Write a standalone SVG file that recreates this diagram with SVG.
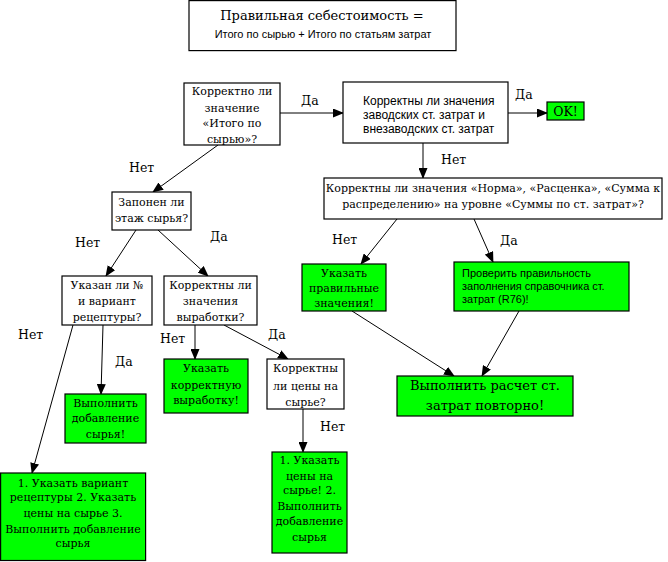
<svg xmlns="http://www.w3.org/2000/svg" width="668" height="562" viewBox="0 0 668 562">
<style>
.b{fill:#fff;stroke:#000;stroke-width:1.2}
.g{fill:#00ff00;stroke:#000;stroke-width:1.2}
.s{font-family:"DejaVu Serif","Liberation Serif",serif;font-size:11px;fill:#000}
.a{font-family:"Liberation Sans",Arial,sans-serif;font-size:12px;fill:#000}
.c{text-anchor:middle}
.t{font-size:12.5px}
.h{font-size:13px}
.l{stroke:#000;stroke-width:1;fill:none;marker-end:url(#ar)}
</style>
<defs>
<marker id="ar" markerWidth="11" markerHeight="9" refX="10" refY="4.5" orient="auto" markerUnits="userSpaceOnUse">
<path d="M0,0 L11,4.5 L0,9 Z" fill="#000"/>
</marker>
</defs>
<rect width="668" height="562" fill="#fff"/>
<g id="title">
<rect class="b" x="189" y="0.6" width="267" height="50"/>
<text class="s c h" x="322" y="20">Правильная себестоимость =</text>
<text class="a c" x="323" y="38" style="font-size:11px">Итого по сырью + Итого по статьям затрат</text>
</g>
<g id="connectors">
<line class="l" x1="280" y1="113" x2="343" y2="113"/>
<line class="l" x1="508" y1="113" x2="547" y2="113"/>
<line class="l" x1="423" y1="143" x2="423" y2="178"/>
<line class="l" x1="397" y1="219" x2="361" y2="264"/>
<line class="l" x1="474" y1="219" x2="493" y2="262"/>
<line class="l" x1="352" y1="311" x2="454" y2="376"/>
<line class="l" x1="519" y1="311" x2="482" y2="376"/>
<line class="l" x1="218" y1="145" x2="153" y2="192"/>
<line class="l" x1="136" y1="230" x2="106" y2="276"/>
<line class="l" x1="158" y1="230" x2="208" y2="276"/>
<line class="l" x1="73" y1="325" x2="32" y2="473"/>
<line class="l" x1="103" y1="325" x2="101" y2="394"/>
<line class="l" x1="195" y1="325" x2="195" y2="359"/>
<line class="l" x1="224" y1="325" x2="288" y2="359"/>
<line class="l" x1="303" y1="409" x2="303" y2="452"/>
<text class="s t" x="301" y="105">Да</text>
<text class="s t" x="515" y="99">Да</text>
<text class="s t" x="441" y="164">Нет</text>
<text class="s t" x="332" y="244">Нет</text>
<text class="s t" x="500" y="245">Да</text>
<text class="s t" x="129" y="172">Нет</text>
<text class="s t" x="75" y="247">Нет</text>
<text class="s t" x="210" y="241">Да</text>
<text class="s t" x="18" y="339">Нет</text>
<text class="s t" x="115" y="366">Да</text>
<text class="s t" x="160" y="343">Нет</text>
<text class="s t" x="268" y="339">Да</text>
<text class="s t" x="320" y="431">Нет</text>
</g>
<g id="n1">
<rect class="b" x="184" y="83" width="96" height="62"/>
<text class="s c" x="232" y="95">Корректно ли</text>
<text class="s c" x="232" y="112">значение</text>
<text class="s c" x="232" y="127">«Итого по</text>
<text class="s c" x="232" y="143">сырью»?</text>
</g>
<g id="n2">
<rect class="b" x="343" y="82" width="165" height="61"/>
<text class="a" x="363" y="105">Корректны ли значения</text>
<text class="a" x="363" y="119">заводских ст. затрат и</text>
<text class="a" x="363" y="133">внезаводских ст. затрат</text>
</g>
<g id="ok">
<rect class="g" x="547" y="102" width="37" height="18"/>
<text class="s c t" x="565.5" y="116">OK!</text>
</g>
<g id="n3">
<rect class="b" x="324" y="178" width="338" height="41"/>
<text class="s c" x="493" y="192">Корректны ли значения «Норма», «Расценка», «Сумма к</text>
<text class="s c" x="493" y="208">распределению» на уровне «Суммы по ст. затрат»?</text>
</g>
<g id="n4">
<rect class="g" x="302" y="264" width="84" height="47"/>
<text class="s c" x="344" y="277">Указать</text>
<text class="s c" x="344" y="292">правильные</text>
<text class="s c" x="344" y="307">значения!</text>
</g>
<g id="n5">
<rect class="g" x="454" y="262" width="175" height="49"/>
<text class="a" x="462" y="277" style="font-size:11px">Проверить правильность</text>
<text class="a" x="462" y="290" style="font-size:11px">заполнения справочника ст.</text>
<text class="a" x="462" y="303" style="font-size:11px">затрат (R76)!</text>
</g>
<g id="n6">
<rect class="g" x="397" y="376" width="176" height="40"/>
<text class="s c h" x="485" y="390">Выполнить расчет ст.</text>
<text class="s c h" x="485" y="410">затрат повторно!</text>
</g>
<g id="n7">
<rect class="b" x="112" y="192" width="79" height="38"/>
<text class="s c" x="151.5" y="206">Запонен ли</text>
<text class="s c" x="151.5" y="222">этаж сырья?</text>
</g>
<g id="n8">
<rect class="b" x="62" y="276" width="90" height="49"/>
<text class="s c" x="107" y="289">Указан ли №</text>
<text class="s c" x="107" y="305">и вариант</text>
<text class="s c" x="107" y="321">рецептуры?</text>
</g>
<g id="n9">
<rect class="b" x="164" y="276" width="93" height="49"/>
<text class="s c" x="210.5" y="289">Корректны ли</text>
<text class="s c" x="210.5" y="305">значения</text>
<text class="s c" x="210.5" y="321">выработки?</text>
</g>
<g id="n10">
<rect class="g" x="65" y="394" width="81" height="49"/>
<text class="s c" x="105.5" y="407">Выполнить</text>
<text class="s c" x="105.5" y="422">добавление</text>
<text class="s c" x="105.5" y="438">сырья!</text>
</g>
<g id="n11">
<rect class="g" x="0.6" y="473" width="145" height="87.5"/>
<text class="s c" x="73" y="487">1. Указать вариант</text>
<text class="s c" x="73" y="501">рецептуры  2.  Указать</text>
<text class="s c" x="73" y="517">цены на сырье 3.</text>
<text class="s c" x="73" y="533">Выполнить добавление</text>
<text class="s c" x="73" y="547">сырья</text>
</g>
<g id="n12">
<rect class="g" x="164" y="359" width="84" height="54"/>
<text class="s c" x="206" y="372">Указать</text>
<text class="s c" x="206" y="389">корректную</text>
<text class="s c" x="206" y="404">выработку!</text>
</g>
<g id="n13">
<rect class="b" x="267" y="359" width="77" height="50"/>
<text class="s c" x="305.5" y="372">Корректны</text>
<text class="s c" x="305.5" y="390">ли цены на</text>
<text class="s c" x="305.5" y="406">сырье?</text>
</g>
<g id="n14">
<rect class="g" x="272" y="452" width="75" height="101"/>
<text class="s c" x="309.5" y="464">1. Указать</text>
<text class="s c" x="309.5" y="480">цены на</text>
<text class="s c" x="309.5" y="494">сырье! 2.</text>
<text class="s c" x="309.5" y="510">Выполнить</text>
<text class="s c" x="309.5" y="525">добавление</text>
<text class="s c" x="309.5" y="541">сырья</text>
</g>
</svg>
